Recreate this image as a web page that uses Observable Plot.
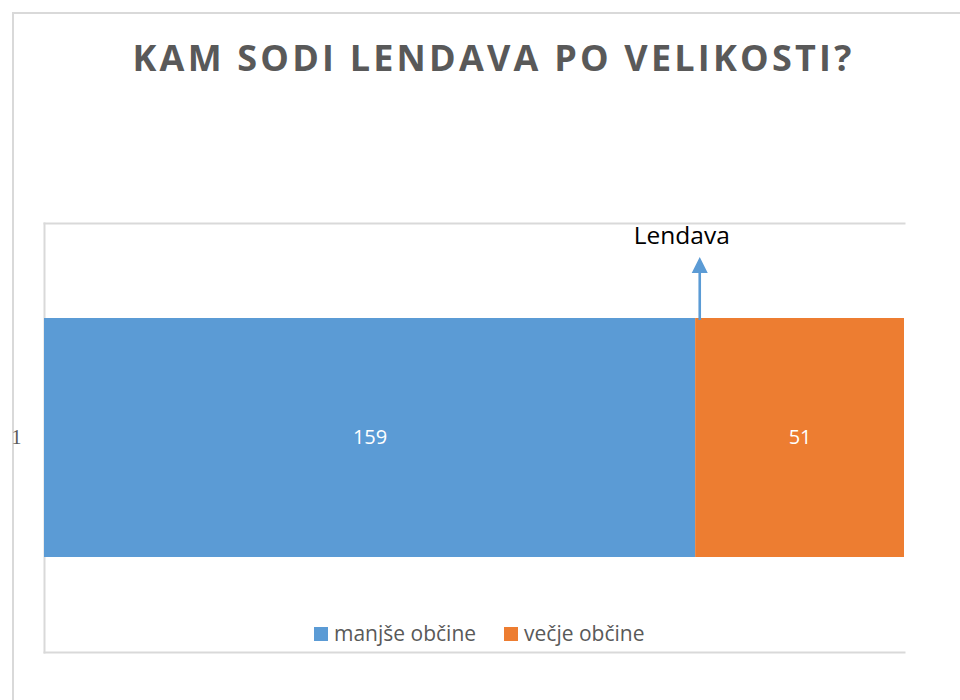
<!DOCTYPE html>
<html>
<head>
<meta charset="utf-8">
<script src="https://cdn.jsdelivr.net/npm/d3@7"></script>
<script src="https://cdn.jsdelivr.net/npm/@observablehq/plot@0.6"></script>
<style>
  html, body { margin: 0; padding: 0; background: #fff; }
  body { width: 960px; height: 700px; overflow: hidden; position: relative; font-family: "Open Sans", sans-serif; }
  #outer { position: absolute; left: 12px; top: 12px; width: 960px; height: 700px; border-left: 2px solid #d9d9d9; border-top: 2px solid #d9d9d9; box-sizing: border-box; }
  #title { position: absolute; left: 0; top: 40px; width: 987px; text-align: center; font-family: "Open Sans", sans-serif; font-weight: 700; font-size: 36px; line-height: 36px; letter-spacing: 3.2px; color: #595959; white-space: nowrap; }
  #chart { position: absolute; left: 0; top: 150px; }
  #legend { position: absolute; left: 314px; top: 623px; display: flex; gap: 28px; font-family: "Open Sans", sans-serif; font-size: 21px; line-height: 21px; color: #595959; white-space: nowrap; }
  #legend .item { display: inline-block; }
  #legend .sw { display: inline-block; width: 14px; height: 14px; margin-right: 6px; vertical-align: baseline; }
</style>
</head>
<body>
<div id="outer"></div>
<div id="title"></div>
<div id="chart"></div>
<div id="legend"></div>
<script>
// ---- data ----
const titleText = "KAM SODI LENDAVA PO VELIKOSTI?";
const categories = ["1"];
const seriesNames = ["manjše občine", "večje občine"];
const seriesValues = [159, 51];
const seriesColors = ["#5b9bd5", "#ed7d31"];
const annotationLabels = ["Lendava"];
const annotationValues = [160];
const xDomain = [0, 210];

// ---- build table ----
const data = seriesNames.map((s, i) => ({ category: categories[0], series: s, value: seriesValues[i] }));
const notes = annotationLabels.map((t, i) => ({ category: categories[0], label: t, value: annotationValues[i] }));

document.getElementById("title").textContent = titleText;

const arrowShape = {
  draw(context, l) {
    const hl = 16, hw = 8, sw = 1.3;
    context.moveTo(-sw, 0);
    context.lineTo(-sw, -l + hl);
    context.lineTo(-hw, -l + hl);
    context.lineTo(0, -l);
    context.lineTo(hw, -l + hl);
    context.lineTo(sw, -l + hl);
    context.lineTo(sw, 0);
    context.closePath();
  }
};

const plot = Plot.plot({
  width: 960,
  height: 550,
  marginLeft: 44,
  marginRight: 56,
  marginTop: 73,
  marginBottom: 48,
  style: { background: "transparent", fontFamily: "Open Sans, sans-serif", color: "#595959" },
  x: { domain: xDomain, axis: null },
  y: { domain: categories, padding: 0.2835, axis: null },
  color: { domain: seriesNames, range: seriesColors },
  marks: [
    Plot.frame({ anchor: "top", stroke: "#d9d9d9", strokeWidth: 2 }),
    Plot.frame({ anchor: "left", stroke: "#d9d9d9", strokeWidth: 2 }),
    Plot.frame({ anchor: "bottom", stroke: "#d9d9d9", strokeWidth: 2 }),
    Plot.axisY({ tickSize: 0, tickPadding: 23, label: null, fontFamily: "Liberation Serif, serif", fontSize: 20, fill: "#595959" }),
    Plot.barX(data, Plot.stackX({ x: "value", y: "category", fill: "series" })),
    Plot.text(data, Plot.stackX({ x: "value", y: "category", text: d => String(d.value), fill: "white", fontSize: 20, fontFamily: "Open Sans, sans-serif" })),
    Plot.vector(notes, { x: "value", y: "category", length: 63, rotate: 0, anchor: "start", shape: arrowShape, fill: "#5b9bd5", stroke: "none", dy: -118 }),
    Plot.text(notes, { x: "value", y: "category", text: "label", dy: -201.5, dx: -18, fontSize: 24.5, fill: "#000", fontFamily: "Open Sans, sans-serif" })
  ]
});
document.getElementById("chart").appendChild(plot);

// legend
const legend = document.getElementById("legend");
seriesNames.forEach((s, i) => {
  const item = document.createElement("span");
  item.className = "item";
  const sw = document.createElement("span");
  sw.className = "sw";
  sw.style.background = seriesColors[i];
  item.appendChild(sw);
  item.appendChild(document.createTextNode(s));
  legend.appendChild(item);
});
</script>
</body>
</html>
